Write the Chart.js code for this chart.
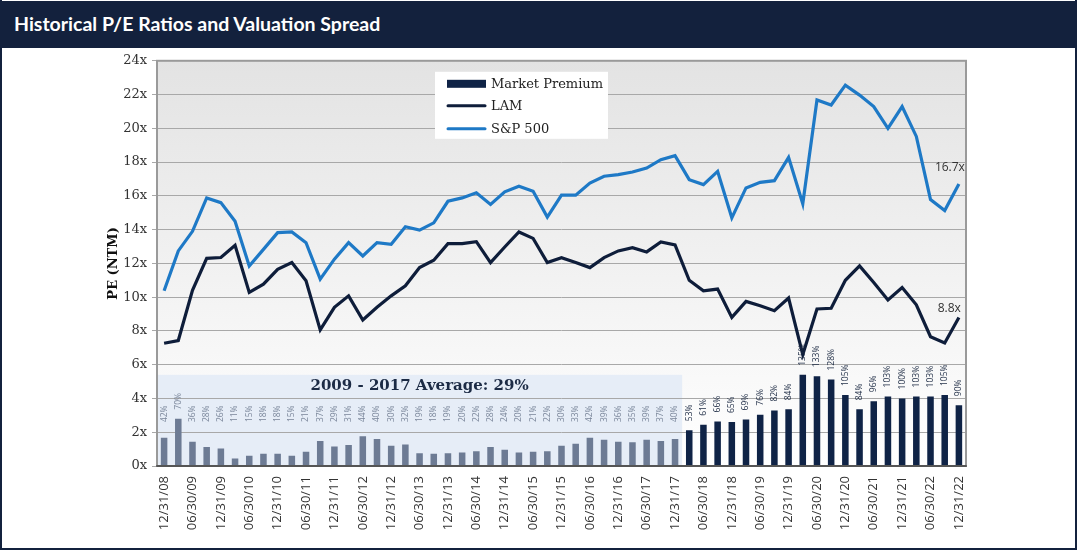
<!DOCTYPE html>
<html>
<head>
<meta charset="utf-8">
<title>Historical P/E Ratios and Valuation Spread</title>
<script src="https://cdn.jsdelivr.net/npm/chart.js@4.4.0/dist/chart.umd.min.js"></script>
<style>
  html, body { margin: 0; padding: 0; background: #fff; }
  .card { position: absolute; left: 0; top: 0; width: 1077px; height: 550px; box-sizing: border-box;
          border: 2px solid #13213d; border-top: none; background: #fff; }
  .header { position: absolute; left: 0; top: 1px; width: 1077px; height: 47px; background: #13213d;
            color: #fff; font: 700 19.5px Lato, sans-serif; line-height: 46px; padding-left: 14px; box-sizing: border-box; }
  #chartWrap { position: absolute; left: 2px; top: 48px; width: 1072px; height: 499px; }
</style>
</head>
<body>
<div class="card"></div>
<div class="header">Historical P/E Ratios and Valuation Spread</div>
<div id="chartWrap"><canvas id="peChart" width="1072" height="499"></canvas></div>
<script>
// quarter ends, 12/31/08 .. 12/31/22
const quarters = [
  '12/31/08','03/31/09','06/30/09','09/30/09','12/31/09','03/31/10','06/30/10','09/30/10',
  '12/31/10','03/31/11','06/30/11','09/30/11','12/31/11','03/31/12','06/30/12','09/30/12',
  '12/31/12','03/31/13','06/30/13','09/30/13','12/31/13','03/31/14','06/30/14','09/30/14',
  '12/31/14','03/31/15','06/30/15','09/30/15','12/31/15','03/31/16','06/30/16','09/30/16',
  '12/31/16','03/31/17','06/30/17','09/30/17','12/31/17','03/31/18','06/30/18','09/30/18',
  '12/31/18','03/31/19','06/30/19','09/30/19','12/31/19','03/31/20','06/30/20','09/30/20',
  '12/31/20','03/31/21','06/30/21','09/30/21','12/31/21','03/31/22','06/30/22','09/30/22',
  '12/31/22'
];

const lamPE = [
  7.27, 7.43, 10.4, 12.3, 12.35, 13.07, 10.28, 10.77, 11.65, 12.05, 10.97, 8.06, 9.4, 10.08, 8.65, 9.4,
  10.08, 10.67, 11.75, 12.19, 13.17, 13.17, 13.29, 12.05, 12.97, 13.86, 13.48, 12.05, 12.34, 12.05, 11.75, 12.34,
  12.74, 12.93, 12.68, 13.27, 13.09, 11.0, 10.38, 10.48, 8.8, 9.75, 9.49, 9.2, 9.95, 6.6, 9.3, 9.34,
  11.0, 11.85, 10.87, 9.83, 10.57, 9.55, 7.66, 7.29, 8.8
];

const spxPE = [
  10.38, 12.74, 13.9, 15.88, 15.6, 14.5, 11.85, 12.83, 13.82, 13.86, 13.23, 11.07, 12.25, 13.23, 12.44, 13.23,
  13.13, 14.17, 13.97, 14.4, 15.68, 15.88, 16.18, 15.49, 16.24, 16.57, 16.27, 14.74, 16.04, 16.04, 16.76, 17.16,
  17.26, 17.41, 17.65, 18.14, 18.38, 16.96, 16.67, 17.45, 14.7, 16.47, 16.8, 16.9, 18.28, 15.53, 21.68, 21.38,
  22.56, 21.97, 21.29, 20.0, 21.29, 19.52, 15.78, 15.13, 16.7
];

// S&P 500 premium over LAM, in %
const premiumPct = [
  42, 70, 36, 28, 26, 11, 15, 18, 18, 15, 21, 37, 29, 31, 44, 40,
  30, 32, 19, 18, 19, 20, 22, 28, 24, 20, 21, 22, 30, 33, 42, 39,
  36, 35, 39, 37, 40, 53, 61, 66, 65, 69, 76, 82, 84, 135, 133, 128,
  105, 84, 96, 103, 100, 103, 103, 105, 90
];

const seriesNames = ['Market Premium', 'LAM', 'S&P 500'];
const avgLabel = '2009 - 2017 Average: 29%';
const avgPeriodEnd = '12/31/17';
const lastLabels = ['8.8x', '16.7x'];

const NAVY = '#0f2346';
const GREY_BAR = '#6d7b94';
const LAM_COLOR = '#0e1d3a';
const SPX_COLOR = '#1e79c6';
const AVG_BOX_TOP = 5.4;   // in PE units, top of the shaded average panel

const avgEndIdx = quarters.indexOf(avgPeriodEnd);
const barColors = premiumPct.map((_, i) => i <= avgEndIdx ? GREY_BAR : NAVY);

const decor = {
  id: 'decor',
  beforeDraw(chart) {
    const { ctx, chartArea: a, scales } = chart;
    ctx.save();
    const g = ctx.createLinearGradient(0, a.top, 0, a.bottom);
    g.addColorStop(0, '#e3e3e3');
    g.addColorStop(1, '#ffffff');
    ctx.fillStyle = g;
    ctx.fillRect(a.left, a.top, a.right - a.left, a.bottom - a.top);

    // shaded 2009-2017 panel
    const x = scales.x;
    const right = (x.getPixelForValue(avgEndIdx) + x.getPixelForValue(avgEndIdx + 1)) / 2;
    const top = scales.y.getPixelForValue(AVG_BOX_TOP);
    ctx.fillStyle = '#e6edf7';
    ctx.fillRect(a.left, top, right - a.left, a.bottom - top);
    ctx.restore();
  },
  afterDatasetsDraw(chart) {
    const { ctx, chartArea: a, scales } = chart;
    ctx.save();

    // rotated % labels above the bars
    const barMeta = chart.getDatasetMeta(0);
    const clampY = scales.y.getPixelForValue(2.6);
    ctx.font = '8.5px "Open Sans", sans-serif';
    ctx.textAlign = 'left';
    ctx.textBaseline = 'middle';
    barMeta.data.forEach((bar, i) => {
      const y = Math.min(bar.y - 9, clampY);
      ctx.save();
      ctx.translate(bar.x, y);
      ctx.rotate(-Math.PI / 2);
      ctx.fillStyle = i <= avgEndIdx ? '#7a869a' : '#1d2b44';
      ctx.fillText(premiumPct[i] + '%', 0, 0);
      ctx.restore();
    });

    // end-point labels
    ctx.font = '12px "Open Sans", sans-serif';
    ctx.fillStyle = '#333';
    ctx.textAlign = 'right';
    const lamLast = chart.getDatasetMeta(1).data[lamPE.length - 1];
    const spxLast = chart.getDatasetMeta(2).data[spxPE.length - 1];
    ctx.fillText(lastLabels[0], lamLast.x + 2, lamLast.y - 9);
    ctx.fillText(lastLabels[1], spxLast.x + 6, spxLast.y - 16);

    // average caption
    const x = scales.x;
    const right = (x.getPixelForValue(avgEndIdx) + x.getPixelForValue(avgEndIdx + 1)) / 2;
    const top = scales.y.getPixelForValue(AVG_BOX_TOP);
    ctx.font = 'bold 15px "DejaVu Serif", serif';
    ctx.fillStyle = '#1c2b45';
    ctx.textAlign = 'center';
    ctx.fillText(avgLabel, (a.left + right) / 2, top + 11);

    // legend box
    const bx = a.left + 278, by = a.top + 11;
    ctx.fillStyle = '#ffffff';
    ctx.fillRect(bx, by, 173, 67);
    const rows = [12, 34, 57];
    chart.data.datasets.forEach((ds, i) => {
      const ry = by + rows[i];
      if (ds.type === 'bar') {
        ctx.fillStyle = NAVY;
        ctx.fillRect(bx + 12, ry - 4, 39, 8);
      } else {
        ctx.strokeStyle = ds.borderColor;
        ctx.lineWidth = 3;
        ctx.lineCap = 'round';
        ctx.beginPath();
        ctx.moveTo(bx + 13, ry);
        ctx.lineTo(bx + 50, ry);
        ctx.stroke();
      }
      ctx.font = '13px "DejaVu Serif", serif';
      ctx.fillStyle = '#222';
      ctx.textAlign = 'left';
      ctx.fillText(ds.label, bx + 56, ry + 1);
    });

    // plot frame
    ctx.strokeStyle = '#9a9a9a';
    ctx.lineWidth = 2;
    ctx.strokeRect(a.left, a.top, a.right - a.left, a.bottom - a.top);
    ctx.strokeStyle = '#555';
    ctx.beginPath();
    ctx.moveTo(a.left, a.bottom);
    ctx.lineTo(a.right, a.bottom);
    ctx.stroke();
    ctx.restore();
  }
};

new Chart(document.getElementById('peChart'), {
  type: 'bar',
  data: {
    labels: quarters,
    datasets: [
      {
        type: 'bar',
        label: seriesNames[0],
        data: premiumPct,
        yAxisID: 'y1',
        backgroundColor: barColors,
        barPercentage: 0.46,
        categoryPercentage: 1,
        order: 2
      },
      {
        type: 'line',
        label: seriesNames[1],
        data: lamPE,
        yAxisID: 'y',
        borderColor: LAM_COLOR,
        borderWidth: 3.2,
        pointRadius: 0,
        tension: 0,
        order: 1
      },
      {
        type: 'line',
        label: seriesNames[2],
        data: spxPE,
        yAxisID: 'y',
        borderColor: SPX_COLOR,
        borderWidth: 3.2,
        pointRadius: 0,
        tension: 0,
        order: 1
      }
    ]
  },
  options: {
    responsive: false,
    animation: false,
    layout: { padding: { top: 11, right: 108, left: 0, bottom: 0 } },
    plugins: {
      legend: { display: false },
      tooltip: { enabled: false }
    },
    scales: {
      x: {
        offset: true,
        grid: { display: false, drawTicks: false },
        border: { display: false },
        ticks: {
          autoSkip: false,
          maxRotation: 90,
          minRotation: 90,
          padding: 10,
          color: '#333',
          font: { family: '"Open Sans", sans-serif', size: 13 },
          callback: function (v) {
            const lbl = this.getLabelForValue(v);
            return /^(06|12)/.test(lbl) ? lbl : null;
          }
        },
        afterFit: (scale) => { scale.height = 81; }
      },
      y: {
        min: 0,
        max: 24,
        ticks: {
          stepSize: 2,
          padding: 5,
          color: '#333',
          font: { family: '"DejaVu Serif", serif', size: 13 },
          callback: (v) => v + 'x'
        },
        grid: { color: '#a8a8a8', lineWidth: 1, tickLength: 5 },
        border: { display: false },
        title: {
          display: true,
          text: 'PE (NTM)',
          color: '#111',
          font: { family: '"DejaVu Serif", serif', size: 13, weight: 'bold' },
          padding: { top: 104, bottom: 0 }
        },
        afterFit: (scale) => { scale.width = 155; }
      },
      y1: {
        display: false,
        min: 0,
        max: 600
      }
    }
  },
  plugins: [decor]
});
</script>
</body>
</html>
